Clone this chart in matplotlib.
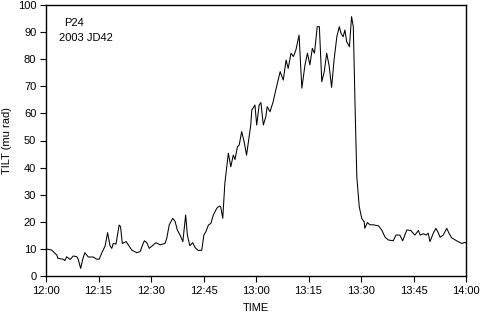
import matplotlib
matplotlib.use('Agg')
import matplotlib.pyplot as plt

# minutes after 12:00 and tilt values
minutes = [0, 1.6, 3.1, 3.4, 4.9, 5.4, 5.9, 6.9, 7.8, 8.8, 9.2, 9.9, 10.5, 11.1, 12.1,
           13.5, 14.5, 15.2, 15.9, 16.9, 17.6, 18.3, 18.8, 19.2, 20.0, 20.9, 21.3, 21.8,
           22.9, 23.5, 24.5, 25.9, 26.9, 27.6, 28.1, 28.8, 29.5, 30.7, 31.4, 32.6, 34.0,
           34.5, 35.2, 36.2, 36.9, 37.5, 38.3, 39.1, 39.9, 40.4, 41.1, 41.9, 42.6, 43.5,
           44.5, 45.1, 45.7, 46.4, 47.1, 47.8, 48.8, 49.5, 49.9, 50.5, 51.1, 52.1, 52.8,
           53.5, 54.0, 54.7, 55.2, 55.9, 56.6, 57.3, 58.0, 58.5, 58.8, 59.2, 59.7, 60.2,
           60.9, 61.4, 62.1, 62.8, 63.2, 64.0, 64.9, 65.9, 66.9, 67.8, 68.6, 69.2, 70.0,
           70.7, 71.4, 72.3, 73.1, 74.0, 74.7, 75.4, 76.1, 76.7, 77.5, 78.1, 78.8, 79.5,
           80.2, 80.9, 81.6, 82.3, 83.1, 83.8, 84.3, 84.9, 85.4, 85.9, 86.7, 87.3, 87.8,
           88.3, 88.8, 89.5, 90.2, 90.9, 91.1, 91.8, 92.6, 93.5, 95.0, 95.9, 96.9, 97.8,
           99.2, 100.0, 101.1, 101.9, 103.1, 104.2, 105.4, 106.4, 106.9, 107.8, 108.6,
           109.2, 109.7, 110.7, 111.4, 112.1, 112.6, 113.5, 114.5, 115.2, 115.9, 117.3,
           118.8, 119.7, 120]
tilt = [10.0, 9.6, 7.7, 6.5, 6.2, 5.7, 7.1, 6.1, 7.4, 7.1, 6.2, 2.8, 6.2, 8.6, 7.0,
        7.0, 6.2, 6.2, 8.4, 11.1, 16.0, 11.1, 10.2, 12.0, 11.8, 18.8, 18.2, 12.0,
        12.7, 11.5, 9.6, 8.6, 9.0, 11.5, 13.0, 12.3, 10.2, 11.5, 12.3, 11.5, 12.0,
        13.9, 18.8, 21.3, 20.1, 17.0, 15.1, 12.7, 22.5, 15.0, 11.2, 12.3, 10.5, 9.4,
        9.5, 15.1, 16.4, 18.8, 19.4, 22.5, 25.0, 25.8, 25.6, 21.3, 34.2, 45.3, 40.3,
        44.6, 43.0, 47.7, 48.3, 53.3, 49.6, 44.6, 51.0, 55.7, 61.3, 62.0, 63.1, 55.7,
        63.1, 64.0, 55.7, 58.8, 62.5, 60.6, 64.3, 70.0, 75.4, 72.3, 79.7, 76.6, 82.2,
        81.0, 83.4, 88.9, 69.3, 77.9, 82.2, 77.9, 84.0, 82.2, 92.0, 92.0, 71.7, 75.4,
        82.2, 77.5, 69.6, 79.7, 88.3, 92.0, 89.5, 88.3, 90.8, 86.5, 84.6, 95.7, 92.0,
        63.0, 36.6, 25.6, 21.3, 20.0, 17.6, 19.7, 18.9, 18.9, 18.5, 17.0, 14.3, 13.3,
        13.0, 15.1, 15.1, 13.0, 17.0, 16.8, 15.1, 16.8, 15.1, 15.6, 15.1,
        15.8, 12.7, 15.9, 17.6, 15.9, 14.3, 15.1, 17.6, 15.6, 14.1, 13.0,
        12.0, 12.4, 12.2]
tick_minutes = [0, 15, 30, 45, 60, 75, 90, 105, 120]
tick_labels = ['12:00', '12:15', '12:30', '12:45', '13:00', '13:15', '13:30', '13:45', '14:00']

plt.rcParams['font.family'] = ['Liberation Sans', 'DejaVu Sans']
plt.rcParams['font.size'] = 8

fig = plt.figure(figsize=(4.8, 3.18), dpi=100)
ax = fig.add_axes([46 / 480, 42 / 318, 420 / 480, 271 / 318])

ax.plot(minutes, tilt, color='black', linewidth=0.75)

ax.set_xlim(0, 120)
ax.set_ylim(0, 100)
ax.set_xticks(tick_minutes)
ax.set_xticklabels(tick_labels)
ax.set_yticks(range(0, 101, 10))
ax.tick_params(direction='out', length=4, width=0.8, pad=3, labelsize=8)
for s in ax.spines.values():
    s.set_linewidth(1.0)

ax.set_xlabel('TIME', fontsize=8, labelpad=5)
ax.set_ylabel('TILT (mu rad)', fontsize=8, labelpad=4)

ax.text(0.043, 0.935, 'P24', transform=ax.transAxes, fontsize=8, va='center')
ax.text(0.031, 0.88, '2003 JD42', transform=ax.transAxes, fontsize=8, va='center')

fig.savefig('out.png', dpi=100)
